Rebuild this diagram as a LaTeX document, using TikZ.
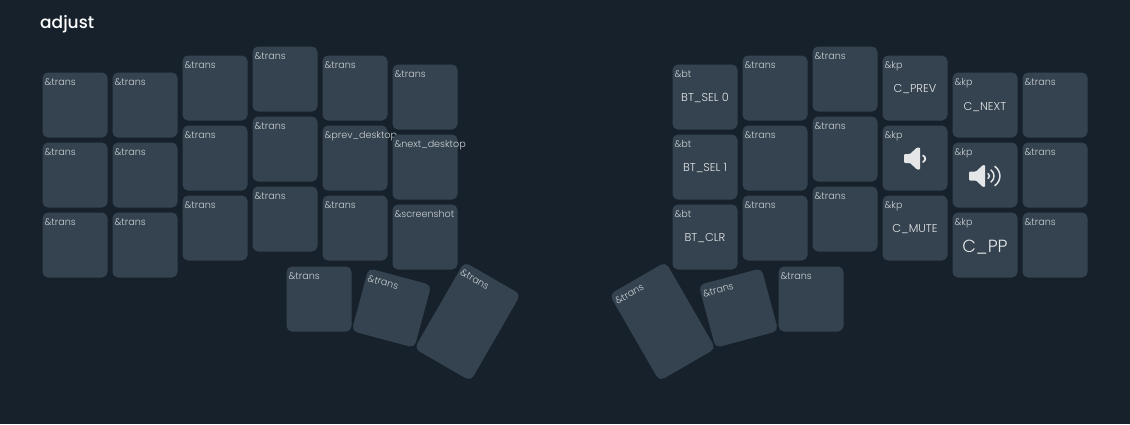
\documentclass[tikz,border=0pt]{standalone}
\usepackage{fontspec}
\setmainfont{Poppins}[UprightFont=* Light,BoldFont=* Medium]
\usetikzlibrary{calc}
\definecolor{bgc}{HTML}{17212B}
\definecolor{keyc}{HTML}{34434F}
\definecolor{lblc}{HTML}{CBD0D4}
\definecolor{capc}{HTML}{E4E6E8}
\tikzset{
  keybox/.style={draw=none,fill=keyc,rounded corners=5.5pt,inner sep=0pt,outer sep=0pt,transform shape},
  bindtext/.style={anchor=base west,inner sep=0pt,outer sep=0pt,text=lblc,font=\fontsize{9.6}{10}\selectfont,transform shape},
  captext/.style={anchor=center,inner sep=0pt,outer sep=0pt,text=capc,font=\fontsize{11.4}{12}\selectfont},
  bigcap/.style={captext,font=\fontsize{17.6}{18}\selectfont},
  icon/.style={fill=capc,draw=none},
  wave/.style={draw=capc,line width=1.5pt,line cap=round},
}
% name, left, top, binding
\newcommand{\keycap}[4]{%
  \node[keybox,minimum width=65pt,minimum height=65pt,anchor=north west] (#1) at (#2,#3) {};
  \node[bindtext] (#1l) at ($(#2,#3)+(2,13)$) {#4};
}
% name, cx, cy, h, rot, binding
\newcommand{\rotkey}[6]{%
  \begin{scope}[shift={(#2,#3)},rotate=-#5]
    \node[keybox,minimum width=65pt,minimum height=#4pt] (#1) at (0,0) {};
    \node[bindtext] (#1l) at ($(-30.5,-#4/2)+(0,13)$) {#6};
  \end{scope}
}
\begin{document}
\begin{tikzpicture}[x=1pt,y=-1pt]
\useasboundingbox (0,0) rectangle (1130,424);
\fill[bgc] (0,0) rectangle (1130,424);
\node[anchor=base west,inner sep=0pt,text=white,font=\fontsize{17}{18}\selectfont\bfseries] (title) at (40,28.5) {adjust};
% left hand
\keycap{a1}{42.5}{72.5}{\&trans}
\keycap{a2}{112.5}{72.5}{\&trans}
\keycap{a3}{182.5}{55.5}{\&trans}
\keycap{a4}{252.5}{46.5}{\&trans}
\keycap{a5}{322.5}{55.5}{\&trans}
\keycap{a6}{392.5}{64.5}{\&trans}
\keycap{b1}{42.5}{142.5}{\&trans}
\keycap{b2}{112.5}{142.5}{\&trans}
\keycap{b3}{182.5}{125.5}{\&trans}
\keycap{b4}{252.5}{116.5}{\&trans}
\keycap{b5}{322.5}{125.5}{\&prev\_desktop}
\keycap{b6}{392.5}{134.5}{\&next\_desktop}
\keycap{c1}{42.5}{212.5}{\&trans}
\keycap{c2}{112.5}{212.5}{\&trans}
\keycap{c3}{182.5}{195.5}{\&trans}
\keycap{c4}{252.5}{186.5}{\&trans}
\keycap{c5}{322.5}{195.5}{\&trans}
\keycap{c6}{392.5}{204.5}{\&screenshot}
\keycap{t1}{286.5}{266.5}{\&trans}
\rotkey{t2}{391.5}{308}{65}{15}{\&trans}
\rotkey{t3}{467.5}{321.5}{100}{30}{\&trans}
% right hand
\keycap{d1}{672.5}{64.5}{\&bt}
\keycap{d2}{742.5}{55.5}{\&trans}
\keycap{d3}{812.5}{46.5}{\&trans}
\keycap{d4}{882.5}{55.5}{\&kp}
\keycap{d5}{952.5}{72.5}{\&kp}
\keycap{d6}{1022.5}{72.5}{\&trans}
\keycap{e1}{672.5}{134.5}{\&bt}
\keycap{e2}{742.5}{125.5}{\&trans}
\keycap{e3}{812.5}{116.5}{\&trans}
\keycap{e4}{882.5}{125.5}{\&kp}
\keycap{e5}{952.5}{142.5}{\&kp}
\keycap{e6}{1022.5}{142.5}{\&trans}
\keycap{f1}{672.5}{204.5}{\&bt}
\keycap{f2}{742.5}{195.5}{\&trans}
\keycap{f3}{812.5}{186.5}{\&trans}
\keycap{f4}{882.5}{195.5}{\&kp}
\keycap{f5}{952.5}{212.5}{\&kp}
\keycap{f6}{1022.5}{212.5}{\&trans}
\keycap{u1}{778.5}{266.5}{\&trans}
\rotkey{u2}{738.5}{308}{65}{-15}{\&trans}
\rotkey{u3}{662.5}{321.5}{100}{-30}{\&trans}
% centred captions
\node[captext] (dc) at (705,98) {BT\_SEL 0};
\node[captext] (ec) at (705,168) {BT\_SEL 1};
\node[captext] (fc) at (705,238) {BT\_CLR};
\node[captext] (d4c) at (915,89) {C\_PREV};
\node[captext] (d5c) at (985,107) {C\_NEXT};
\node[captext] (f4c) at (915,229) {C\_MUTE};
\node[bigcap] (f5c) at (985,247.5) {C\_PP};
% volume down
\fill[icon,rounded corners=1pt] (904,154) -- (910,154) -- (917,147.5) -- (920,147.5) -- (920,169.5) -- (917,169.5) -- (910,163) -- (904,163) -- cycle;
\draw[wave,line width=1.8pt] (923,155.5) .. controls (926,157.5) and (926,160) .. (923,162);
% volume up
\fill[icon,rounded corners=1pt] (969,171.5) -- (976,171.5) -- (983,165) -- (985,165) -- (985,187) -- (983,187) -- (976,180.5) -- (969,180.5) -- cycle;
\draw[wave] (988,173.5) .. controls (990,175) and (990,177) .. (988,178.5);
\draw[wave] (991,170) .. controls (995,173) and (995,179) .. (991,182);
\draw[wave] (995,166.5) .. controls (1001.5,171.5) and (1001.5,180.5) .. (995,185.5);
\end{tikzpicture}
\end{document}
